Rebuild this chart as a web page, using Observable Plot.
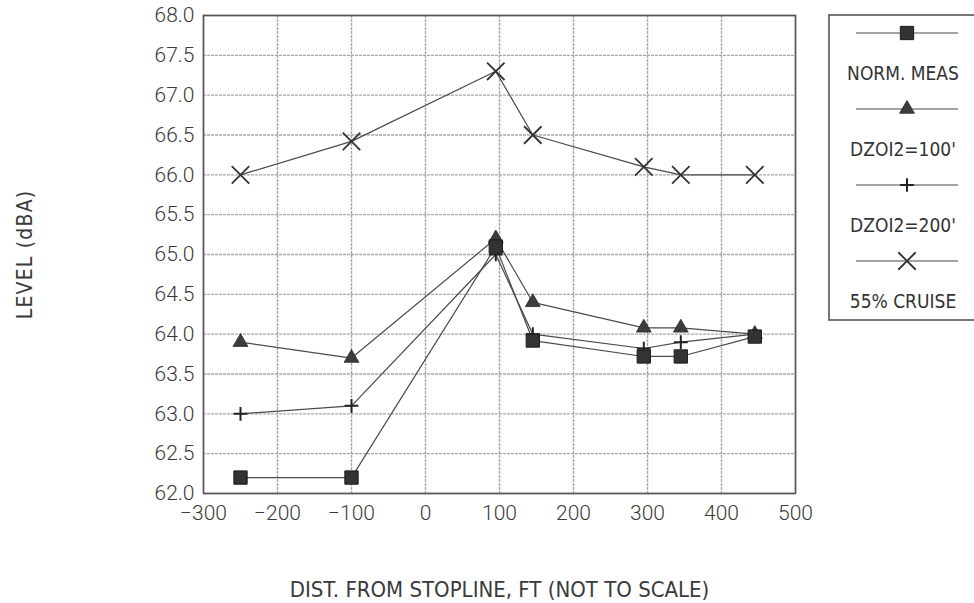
<!DOCTYPE html>
<html><head><meta charset="utf-8">
<script src="https://cdn.jsdelivr.net/npm/d3@7"></script>
<script src="https://cdn.jsdelivr.net/npm/@observablehq/plot@0.6"></script>
<style>
html,body{margin:0;padding:0;background:#fff;}
#chart{position:relative;width:974px;height:603px;overflow:hidden;}
g[aria-label="x-axis label"] text{font-family:"Liberation Sans Narrow","DejaVu Sans Condensed",sans-serif;font-size:22px;font-weight:400;}
g[aria-label="y-axis label"] text{font-family:"Liberation Sans Narrow","DejaVu Sans Condensed",sans-serif;font-size:21px;font-weight:400;letter-spacing:1.2px;}
</style></head><body><div id="chart"></div>
<script>
// Data
const distances = [-250, -100, 95, 145, 295, 345, 445];
const normMeas = [62.2, 62.2, 65.1, 63.92, 63.72, 63.72, 63.97];
const dz100 = [63.9, 63.7, 65.2, 64.4, 64.08, 64.08, 64.0];
const dz200 = [63.0, 63.1, 65.0, 64.0, 63.82, 63.9, 64.0];
const cruise = [66.0, 66.42, 67.3, 66.5, 66.1, 66.0, 66.0];
const seriesNames = ["NORM. MEAS", "DZOI2=100'", "DZOI2=200'", "55% CRUISE"];
const xTicks = [-300, -200, -100, 0, 100, 200, 300, 400, 500];
const yTicks = [62.0, 62.5, 63.0, 63.5, 64.0, 64.5, 65.0, 65.5, 66.0, 66.5, 67.0, 67.5, 68.0];

const seriesValues = [normMeas, dz100, dz200, cruise];
const rows = [];
seriesValues.forEach((vals, i) => vals.forEach((v, j) => rows.push({series: seriesNames[i], x: distances[j], y: v})));
const bySeries = name => rows.filter(d => d.series === name);

const font = "Roboto, 'Liberation Sans', sans-serif";
const narrow = "'Liberation Sans Narrow', 'DejaVu Sans Condensed', sans-serif";

const chart = Plot.plot({
  width: 974,
  height: 603,
  marginLeft: 203,
  marginRight: 179,
  marginTop: 15,
  marginBottom: 110,
  style: {fontFamily: font, fontWeight: 300, fontSize: "21px", color: "#3a3a3a", background: "#fff"},
  x: {domain: [-300, 500]},
  y: {domain: [62, 68]},
  marks: [
    Plot.gridX(xTicks, {stroke: "#8a8a8a", strokeOpacity: 0.75, strokeWidth: 1.4, strokeDasharray: "3,1"}),
    Plot.gridY(yTicks, {stroke: "#8a8a8a", strokeOpacity: 0.75, strokeWidth: 1.4, strokeDasharray: "3,1"}),
    Plot.frame({stroke: "#555", strokeWidth: 1.6}),
    Plot.axisX(xTicks, {tickSize: 0, tickPadding: 12, label: "DIST. FROM STOPLINE, FT (NOT TO SCALE)", labelAnchor: "center", labelArrow: "none", labelOffset: 103, fontSize: 21}),
    Plot.axisY(yTicks, {tickSize: 0, tickPadding: 9, tickFormat: d3.format(".1f"), label: "LEVEL (dBA)", labelAnchor: "center", labelArrow: "none", labelOffset: 186, fontSize: 21}),
    Plot.line(rows, {x: "x", y: "y", z: "series", stroke: "#4a4a4a", strokeWidth: 1.2}),
    Plot.dot(bySeries(seriesNames[3]), {x: "x", y: "y", symbol: "times", r: 8, stroke: "#333", strokeWidth: 1.8}),
    Plot.dot(bySeries(seriesNames[2]), {x: "x", y: "y", symbol: "plus", r: 4.5, stroke: "#222", strokeWidth: 2}),
    Plot.dot(bySeries(seriesNames[1]), {x: "x", y: "y", symbol: "triangle", r: 5.5, fill: "#3c3c3c", stroke: "#2a2a2a", strokeWidth: 0.8}),
    Plot.dot(bySeries(seriesNames[0]), {x: "x", y: "y", symbol: "square", r: 7.5, fill: "#333", stroke: "#1a1a1a", strokeWidth: 1})
  ]
});
document.getElementById("chart").appendChild(chart);

// Legend box (drawn into the same SVG)
const svg = d3.select(chart);
const lg = svg.append("g").attr("font-family", narrow).attr("font-size", 19).attr("fill", "#333");
lg.append("rect").attr("x", 829).attr("y", 15).attr("width", 160).attr("height", 305)
  .attr("fill", "#fff").attr("stroke", "#555").attr("stroke-width", 1.6);
const symbols = [
  {s: d3.symbolSquare, r: 7.5, fill: "#333", stroke: "#1a1a1a", sw: 1},
  {s: d3.symbolTriangle, r: 5.5, fill: "#3c3c3c", stroke: "#2a2a2a", sw: 0.8},
  {s: d3.symbolPlus, r: 4.5, fill: "none", stroke: "#222", sw: 2},
  {s: d3.symbolTimes, r: 8, fill: "none", stroke: "#333", sw: 1.8}
];
seriesNames.forEach((name, i) => {
  const ly = 33 + i * 76;
  lg.append("line").attr("x1", 856).attr("x2", 958).attr("y1", ly).attr("y2", ly).attr("stroke", "#4a4a4a").attr("stroke-width", 1.2);
  const sym = symbols[i];
  lg.append("path").attr("transform", `translate(907,${ly})`)
    .attr("d", d3.symbol(sym.s, Math.PI * sym.r * sym.r)())
    .attr("fill", sym.fill).attr("stroke", sym.stroke).attr("stroke-width", sym.sw);
  lg.append("text").attr("x", 903).attr("y", ly + 40).attr("text-anchor", "middle").attr("dy", "0.35em").text(name);
});
</script>
</body></html>
